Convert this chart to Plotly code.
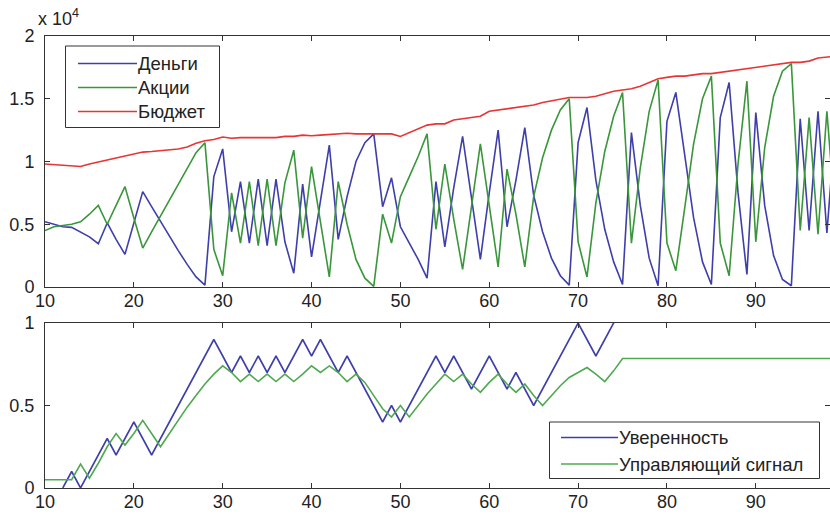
import plotly.graph_objects as go

# ---------------- data ----------------
t = list(range(10, 100))

budget = [9800, 9750, 9700, 9700, 9600, 9800, 9950, 10100, 10300, 10450,
          10600, 10750, 10800, 10850, 10950, 11000, 11150, 11450, 11650, 11750,
          11950, 11850, 11900, 11900, 11950, 11950, 11900, 12000, 12000, 12100,
          12050, 12100, 12150, 12200, 12250, 12200, 12200, 12200, 12150, 12200,
          12000, 12300, 12600, 12900, 13000, 13000, 13300, 13400, 13500, 13600,
          14000, 14100, 14200, 14300, 14400, 14500, 14700, 14850, 15000, 15100,
          15100, 15100, 15200, 15400, 15600, 15700, 15800, 16000, 16300, 16600,
          16700, 16800, 16800, 16900, 17000, 17000, 17100, 17200, 17300, 17400,
          17500, 17600, 17700, 17850, 17900, 17900, 18000, 18250, 18350, 18400]

stocks = [4500, 4800, 4900, 5000, 5200, 5800, 6500, 5000, 6500, 8000,
          5500, 3100, 4400, 5650, 6950, 8100, 9400, 10700, 11500, 3000,
          900, 7500, 3500, 8400, 3300, 8600, 3300, 8300, 10900, 3900,
          9600, 5100, 800, 8400, 5000, 2200, 700, 50, 5800, 3500,
          7200, 8800, 10400, 12200, 4600, 9800, 5400, 1400, 6500, 11400,
          6500, 1600, 9400, 5800, 1600, 7200, 10300, 12500, 14100, 15000,
          3600, 800, 6700, 10800, 13600, 15500, 3500, 9500, 14000, 16500,
          3500, 1300, 6300, 11400, 15000, 16800, 3500, 900, 9800, 16400,
          3600, 11100, 15200, 17200, 17800, 4500, 13500, 4200, 14000, 5000]

money = [5200, 5000, 4800, 4750, 4400, 4000, 3450, 5100, 3800, 2600,
         5100, 7600, 6400, 5200, 4000, 2900, 1800, 800, 150, 8800,
         11000, 4400, 8400, 3500, 8600, 3300, 8600, 3600, 1100, 8200,
         2400, 7000, 11300, 3800, 7200, 10000, 11500, 12200, 6400, 8700,
         4800, 3500, 2200, 700, 8400, 3200, 7900, 12000, 7000, 2200,
         7500, 12500, 4800, 8500, 12700, 7300, 4400, 2300, 900, 150,
         11500, 14300, 8500, 4600, 2000, 200, 12300, 6500, 2300, 100,
         13200, 15500, 10500, 5500, 2000, 200, 13500, 16300, 7500, 1000,
         13900, 6500, 2500, 600, 100, 13400, 4500, 14000, 4300, 13400]

confidence = [None, None, 0.0, 0.1, 0.0, 0.1, 0.2, 0.3, 0.2, 0.3,
              0.4, 0.3, 0.2, 0.3, 0.4, 0.5, 0.6, 0.7, 0.8, 0.9,
              0.8, 0.7, 0.8, 0.7, 0.8, 0.7, 0.8, 0.7, 0.8, 0.9,
              0.8, 0.9, 0.8, 0.7, 0.8, 0.7, 0.6, 0.5, 0.4, 0.5,
              0.4, 0.5, 0.6, 0.7, 0.8, 0.7, 0.8, 0.7, 0.6, 0.7,
              0.8, 0.7, 0.6, 0.7, 0.6, 0.5, 0.6, 0.7, 0.8, 0.9,
              1.0, 0.9, 0.8, 0.9, 1.0, 1.1] + [None] * 24

control = [0.05, 0.05, 0.05, 0.05, 0.145, 0.06, 0.15, 0.25, 0.33, 0.26,
           0.33, 0.41, 0.33, 0.25, 0.33, 0.41, 0.49, 0.56, 0.63, 0.69,
           0.74, 0.70, 0.645, 0.69, 0.645, 0.69, 0.645, 0.69, 0.645, 0.69,
           0.74, 0.70, 0.74, 0.70, 0.645, 0.69, 0.64, 0.56, 0.48, 0.43,
           0.50, 0.43, 0.50, 0.57, 0.63, 0.69, 0.645, 0.69, 0.63, 0.58,
           0.64, 0.69, 0.63, 0.58, 0.63, 0.56, 0.50, 0.56, 0.62, 0.67,
           0.70, 0.73, 0.69, 0.645, 0.71, 0.785] + [0.785] * 24

x_ticks = [10, 20, 30, 40, 50, 60, 70, 80, 90]
top_ticks = [0, 5000, 10000, 15000, 20000]
top_tick_text = ["0", "0.5", "1", "1.5", "2"]
bottom_ticks = [0, 0.5, 1]
bottom_tick_text = ["0", "0.5", "1"]

top_names = ["Деньги", "Акции", "Бюджет"]
bottom_names = ["Уверенность", "Управляющий сигнал"]

# ---------------- style ----------------
W, H = 830, 514
ML, MR, MT, MB = 45, 0, 36, 26
BLUE = "rgb(62,62,172)"
GREEN = "rgb(58,150,58)"
GREEN2 = "rgb(80,168,80)"
RED = "rgb(232,52,52)"
AX = "#333333"
FONT = "Liberation Sans, Arial, sans-serif"
FS = 18
FSL = 18.5


def fx(px):
    return (px - ML) / (W - ML - MR)


def fy(py):
    return (H - MB - py) / (H - MT - MB)


fig = go.Figure()
lw = 1.6
fig.add_trace(go.Scatter(x=t, y=money, mode="lines", line=dict(color=BLUE, width=lw),
                         name=top_names[0], xaxis="x", yaxis="y"))
fig.add_trace(go.Scatter(x=t, y=stocks, mode="lines", line=dict(color=GREEN, width=lw),
                         name=top_names[1], xaxis="x", yaxis="y"))
fig.add_trace(go.Scatter(x=t, y=budget, mode="lines", line=dict(color=RED, width=lw),
                         name=top_names[2], xaxis="x", yaxis="y"))
fig.add_trace(go.Scatter(x=t, y=confidence, mode="lines", line=dict(color=BLUE, width=lw),
                         name=bottom_names[0], xaxis="x2", yaxis="y2"))
fig.add_trace(go.Scatter(x=t, y=control, mode="lines", line=dict(color=GREEN2, width=lw),
                         name=bottom_names[1], xaxis="x2", yaxis="y2"))
# carriers for the right-hand tick marks
fig.add_trace(go.Scatter(x=[None], y=[None], xaxis="x", yaxis="y3", hoverinfo="skip"))
fig.add_trace(go.Scatter(x=[None], y=[None], xaxis="x2", yaxis="y4", hoverinfo="skip"))

xr = [10, 98.35]
axis_common = dict(showgrid=False, zeroline=False, showline=True, linecolor=AX, linewidth=1,
                   ticks="inside", ticklen=5, tickcolor=AX, tickwidth=1,
                   tickfont=dict(family=FONT, size=FS, color="#222222"))

top_dom = [fy(287), 1.0]
bot_dom = [0.0, fy(323)]

fig.update_layout(
    width=W, height=H, showlegend=False,
    margin=dict(l=ML, r=MR, t=MT, b=MB, pad=0),
    paper_bgcolor="white", plot_bgcolor="white",
    font=dict(family=FONT, size=FS, color="#222222"),
    xaxis=dict(domain=[0, 1], anchor="y", range=xr, tickvals=x_ticks, mirror="ticks",
               ticklabelstandoff=-3, **axis_common),
    yaxis=dict(domain=top_dom, anchor="x", range=[0, 20000], tickvals=top_ticks,
               ticktext=top_tick_text, ticklabelstandoff=6, **axis_common),
    xaxis2=dict(domain=[0, 1], anchor="y2", range=xr, tickvals=x_ticks, mirror="ticks",
                ticklabelstandoff=-3, **axis_common),
    yaxis2=dict(domain=bot_dom, anchor="x2", range=[0, 1], tickvals=bottom_ticks,
                ticktext=bottom_tick_text, ticklabelstandoff=6, **axis_common),
    yaxis3=dict(overlaying="y", side="right", anchor="x", range=[0, 20000], tickvals=top_ticks,
                showticklabels=False, showgrid=False, zeroline=False, showline=False,
                ticks="inside", ticklen=5, tickcolor=AX),
    yaxis4=dict(overlaying="y2", side="right", anchor="x2", range=[0, 1], tickvals=bottom_ticks,
                showticklabels=False, showgrid=False, zeroline=False, showline=False,
                ticks="inside", ticklen=5, tickcolor=AX),
)

shapes = []
annotations = []

# exponent label
annotations.append(dict(xref="paper", yref="paper", x=fx(36), y=fy(31), xanchor="left",
                        yanchor="bottom", showarrow=False, text="x 10<sup>4</sup>",
                        font=dict(family=FONT, size=FS, color="#222222")))


def legend(box, rows, line_x0, line_x1, text_x, names, colors):
    x0, y0, x1, y1 = box
    shapes.append(dict(type="rect", xref="paper", yref="paper", x0=fx(x0), x1=fx(x1),
                       y0=fy(y0), y1=fy(y1), line=dict(color=AX, width=1),
                       fillcolor="white", layer="above"))
    for py, name, col in zip(rows, names, colors):
        shapes.append(dict(type="line", xref="paper", yref="paper", x0=fx(line_x0),
                           x1=fx(line_x1), y0=fy(py), y1=fy(py),
                           line=dict(color=col, width=lw), layer="above"))
        annotations.append(dict(xref="paper", yref="paper", x=fx(text_x), y=fy(py),
                                xanchor="left", yanchor="middle", showarrow=False, text=name,
                                font=dict(family=FONT, size=FSL, color="#222222")))


legend((65.5, 46, 219.5, 127.5), [63.5, 87.5, 111.5], 78, 137, 136, top_names,
       [BLUE, GREEN, RED])
legend((549.5, 422, 819.5, 478.5), [437.5, 464], 561, 618, 617, bottom_names,
       [BLUE, GREEN2])

fig.update_layout(shapes=shapes, annotations=annotations)
fig.write_html("out.html", config={"displayModeBar": False},
               post_script="document.body.style.margin='0px';")
